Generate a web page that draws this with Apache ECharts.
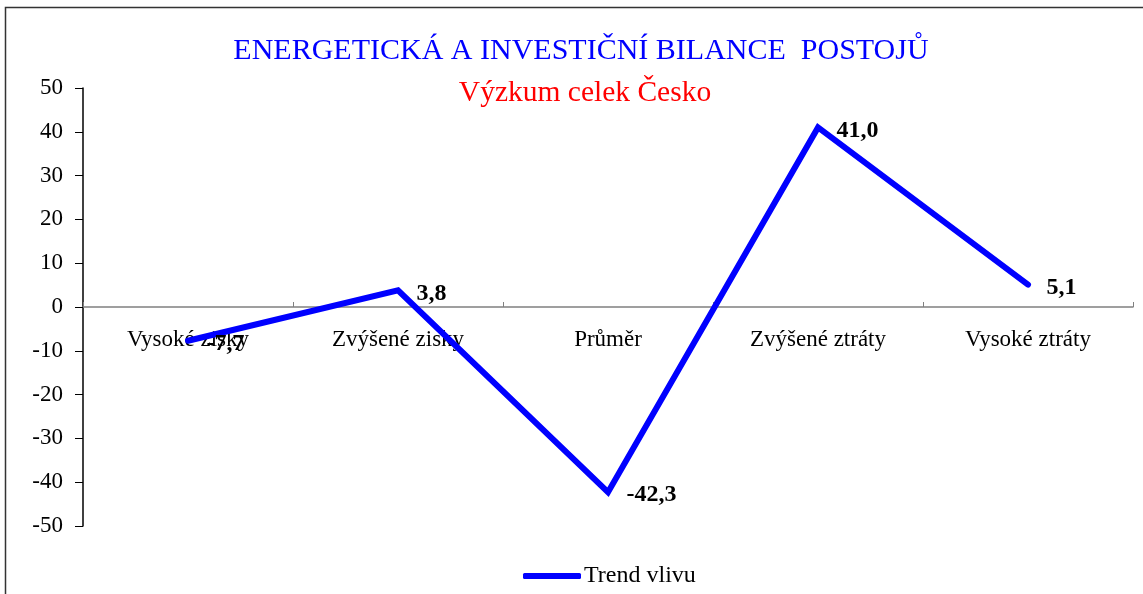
<!DOCTYPE html>
<html>
<head>
<meta charset="utf-8">
<script src="https://cdn.jsdelivr.net/npm/echarts@6/dist/echarts.min.js"></script>
<style>
  html, body { margin: 0; padding: 0; background: #fff; }
  #chart { width: 1143px; height: 594px; }
</style>
</head>
<body>
<div id="chart"></div>
<script>
const categories = ['Vysoké zisky', 'Zvýšené zisky', 'Průměr', 'Zvýšené ztráty', 'Vysoké ztráty'];
const trendValues = [-7.7, 3.8, -42.3, 41.0, 5.1];
const seriesName = 'Trend vlivu';

const serif = '"Liberation Serif", "DejaVu Serif", serif';

const chart = echarts.init(document.getElementById('chart'));

const option = {
  backgroundColor: '#fff',
  animation: false,
  graphic: [{
    type: 'rect',
    shape: { x: 5.5, y: 7.5, width: 1150, height: 600 },
    style: { fill: 'none', stroke: '#333', lineWidth: 1.5 },
    silent: true
  }],
  title: [{
    text: 'ENERGETICKÁ A INVESTIČNÍ BILANCE  POSTOJŮ',
    left: 576,
    top: 31,
    textAlign: 'center',
    textStyle: { color: '#0000ff', fontFamily: serif, fontSize: 30, fontWeight: 'normal' }
  }, {
    text: 'Výzkum celek Česko',
    left: 580,
    top: 73,
    textAlign: 'center',
    textStyle: { color: '#ff0000', fontFamily: serif, fontSize: 29.5, fontWeight: 'normal' }
  }],
  legend: {
    bottom: 1,
    left: 518,
    itemWidth: 58,
    itemHeight: 6,
    icon: 'roundRect',
    textStyle: { fontFamily: serif, fontSize: 24, color: '#000', padding: [0, 0, 0, -2] },
    data: [seriesName]
  },
  grid: { left: 83, right: 10, top: 88, bottom: 68 },
  xAxis: {
    type: 'category',
    data: categories,
    boundaryGap: true,
    position: 'bottom',
    offset: -219,
    axisLine: { onZero: false, lineStyle: { color: '#808080', width: 1.5 } },
    axisTick: { show: true, inside: true, length: 5, lineStyle: { color: '#808080' } },
    axisLabel: { fontFamily: serif, fontSize: 23, color: '#000', margin: 21 }
  },
  yAxis: {
    type: 'value',
    min: -50,
    max: 50,
    interval: 10,
    axisLine: { show: true, lineStyle: { color: '#000', width: 1.5 } },
    axisTick: { show: true, length: 8, lineStyle: { color: '#000' } },
    axisLabel: { fontFamily: serif, fontSize: 23, color: '#000', margin: 20 },
    splitLine: { show: false }
  },
  series: [{
    name: seriesName,
    type: 'line',
    data: trendValues,
    symbol: 'circle',
    symbolSize: 1,
    showSymbol: true,
    lineStyle: { color: '#0000ff', width: 6, cap: 'round', join: 'miter' },
    itemStyle: { color: '#0000ff' },
    label: {
      show: true,
      position: 'right',
      distance: 18,
      offset: [0, 3],
      fontFamily: serif,
      fontSize: 24,
      fontWeight: 'bold',
      color: '#000',
      formatter: p => p.value.toFixed(1).replace('.', ',')
    }
  }]
};

chart.setOption(option);
</script>
</body>
</html>
